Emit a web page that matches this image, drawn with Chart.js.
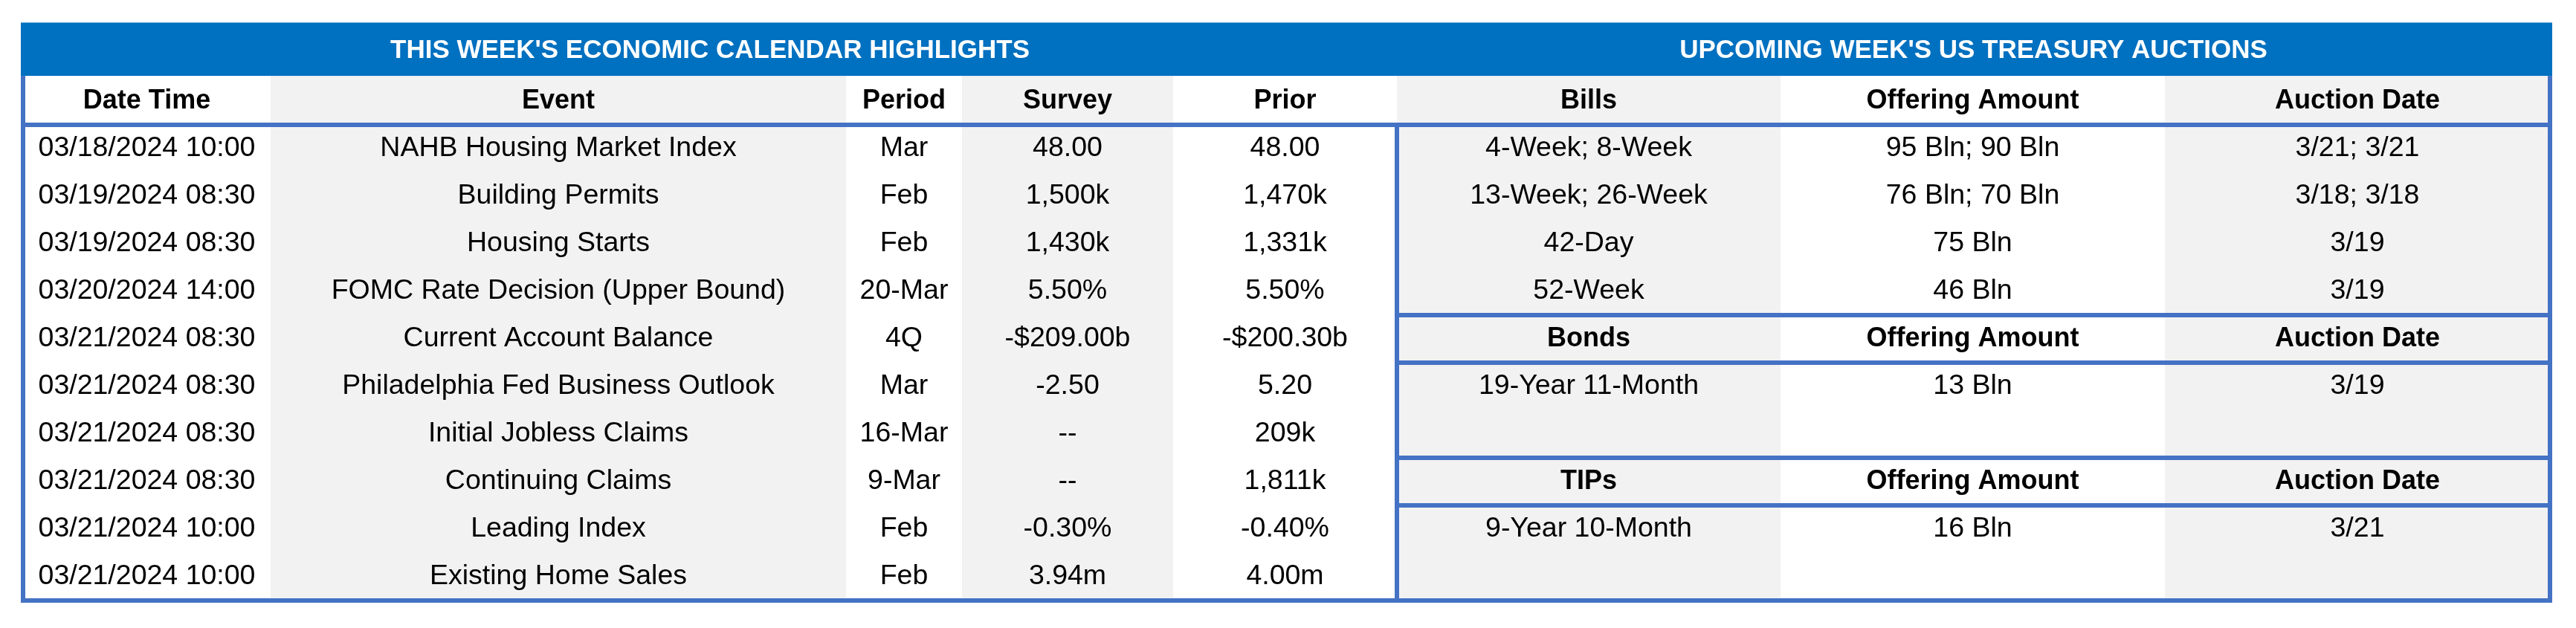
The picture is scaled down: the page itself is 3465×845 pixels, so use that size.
<!DOCTYPE html>
<html>
<head>
<meta charset="utf-8">
<title>Economic calendar and treasury auctions</title>
<script src="https://cdn.jsdelivr.net/npm/chart.js@4.4.1/dist/chart.umd.min.js"></script>
<style>
  html, body { margin: 0; padding: 0; background: #fff; }
  #wrap { width: 3465px; height: 845px; position: relative; }
</style>
</head>
<body>
<div id="wrap"><canvas id="chart"></canvas></div>
<script>
// ---- left table: this week's economic calendar ----
const calTitle = "THIS WEEK'S ECONOMIC CALENDAR HIGHLIGHTS";
const calHeaders = ['Date Time', 'Event', 'Period', 'Survey', 'Prior'];
const dateTimes = [
  '03/18/2024 10:00', '03/19/2024 08:30', '03/19/2024 08:30', '03/20/2024 14:00', '03/21/2024 08:30',
  '03/21/2024 08:30', '03/21/2024 08:30', '03/21/2024 08:30', '03/21/2024 10:00', '03/21/2024 10:00'
];
const events = [
  'NAHB Housing Market Index', 'Building Permits', 'Housing Starts', 'FOMC Rate Decision (Upper Bound)',
  'Current Account Balance', 'Philadelphia Fed Business Outlook', 'Initial Jobless Claims',
  'Continuing Claims', 'Leading Index', 'Existing Home Sales'
];
const periods = ['Mar', 'Feb', 'Feb', '20-Mar', '4Q', 'Mar', '16-Mar', '9-Mar', 'Feb', 'Feb'];
const surveys = ['48.00', '1,500k', '1,430k', '5.50%', '-$209.00b', '-2.50', '--', '--', '-0.30%', '3.94m'];
const priors = ['48.00', '1,470k', '1,331k', '5.50%', '-$200.30b', '5.20', '209k', '1,811k', '-0.40%', '4.00m'];

// ---- right table: upcoming treasury auctions ----
const auctionTitle = "UPCOMING WEEK'S US TREASURY AUCTIONS";
const billHeaders = ['Bills', 'Offering Amount', 'Auction Date'];
const bills = ['4-Week; 8-Week', '13-Week; 26-Week', '42-Day', '52-Week'];
const billAmounts = ['95 Bln; 90 Bln', '76 Bln; 70 Bln', '75 Bln', '46 Bln'];
const billDates = ['3/21; 3/21', '3/18; 3/18', '3/19', '3/19'];
const bondHeaders = ['Bonds', 'Offering Amount', 'Auction Date'];
const bonds = ['19-Year 11-Month'];
const bondAmounts = ['13 Bln'];
const bondDates = ['3/19'];
const tipsHeaders = ['TIPs', 'Offering Amount', 'Auction Date'];
const tips = ['9-Year 10-Month'];
const tipsAmounts = ['16 Bln'];
const tipsDates = ['3/21'];

// ---- layout (x in page units, y in body-row units) ----
const W = 3465;
const leftEdges = [31, 364, 1138, 1294, 1578, 1879];
const rightEdges = [1879, 2395, 2912, 3430];
const leftFills = ['#ffffff', '#f2f2f2', '#ffffff', '#f2f2f2', '#ffffff'];
const rightFills = ['#f2f2f2', '#ffffff', '#f2f2f2'];
const TITLE_TOP = -2.15, TITLE_BOT = -1.03, BODY_ROWS = 10;
const BOND_ROW = 4, TIPS_ROW = 7;
const BLUE = '#0070c0', LINE = '#4472c4';
const FONT = "Arial, 'Liberation Sans', sans-serif";
const bodyFont = '37.5px ' + FONT;
const headFont = 'bold 36px ' + FONT;
const titleFont = 'bold 35px ' + FONT;

const centers = edges => edges.slice(0, -1).map((e, i) => (e + edges[i + 1]) / 2);
const leftX = centers(leftEdges);
const rightX = centers(rightEdges);

// one text per point, drawn at the point's position
function columnSet(texts, x, row0, font) {
  return { data: texts.map((t, i) => ({ x, y: row0 + i + 0.5 })), texts, font, color: '#000' };
}
function rowSet(texts, xs, y, font, color) {
  return { data: texts.map((t, i) => ({ x: xs[i], y })), texts, font, color: color || '#000' };
}

const datasets = [
  rowSet([calTitle], [(leftEdges[0] + leftEdges[5]) / 2], (TITLE_TOP + TITLE_BOT) / 2 + 0.03, titleFont, '#fff'),
  rowSet([auctionTitle], [(rightEdges[0] + rightEdges[3]) / 2], (TITLE_TOP + TITLE_BOT) / 2 + 0.03, titleFont, '#fff'),
  rowSet(calHeaders, leftX, -0.5, headFont),
  columnSet(dateTimes, leftX[0], 0, bodyFont),
  columnSet(events, leftX[1], 0, bodyFont),
  columnSet(periods, leftX[2], 0, bodyFont),
  columnSet(surveys, leftX[3], 0, bodyFont),
  columnSet(priors, leftX[4], 0, bodyFont),
  rowSet(billHeaders, rightX, -0.5, headFont),
  columnSet(bills, rightX[0], 0, bodyFont),
  columnSet(billAmounts, rightX[1], 0, bodyFont),
  columnSet(billDates, rightX[2], 0, bodyFont),
  rowSet(bondHeaders, rightX, BOND_ROW + 0.5, headFont),
  columnSet(bonds, rightX[0], BOND_ROW + 1, bodyFont),
  columnSet(bondAmounts, rightX[1], BOND_ROW + 1, bodyFont),
  columnSet(bondDates, rightX[2], BOND_ROW + 1, bodyFont),
  rowSet(tipsHeaders, rightX, TIPS_ROW + 0.5, headFont),
  columnSet(tips, rightX[0], TIPS_ROW + 1, bodyFont),
  columnSet(tipsAmounts, rightX[1], TIPS_ROW + 1, bodyFont),
  columnSet(tipsDates, rightX[2], TIPS_ROW + 1, bodyFont)
].map(ds => Object.assign(ds, { pointRadius: 0, pointHoverRadius: 0, clip: false }));

// cell fills, title band and blue rules, all placed through the scales
const tableGrid = {
  id: 'tableGrid',
  beforeDatasetsDraw(chart) {
    const { ctx, scales: { x, y } } = chart;
    const rect = (x0, x1, y0, y1, color) => {
      const px0 = x.getPixelForValue(x0), px1 = x.getPixelForValue(x1);
      const py0 = y.getPixelForValue(y0), py1 = y.getPixelForValue(y1);
      ctx.fillStyle = color;
      ctx.fillRect(px0, py0, px1 - px0, py1 - py0);
    };
    const hLine = (x0, x1, row) => {
      const py = y.getPixelForValue(row);
      ctx.fillStyle = LINE;
      ctx.fillRect(x.getPixelForValue(x0), py - 3, x.getPixelForValue(x1) - x.getPixelForValue(x0), 6);
    };
    const vLine = (xv, r0, r1) => {
      const px = x.getPixelForValue(xv);
      ctx.fillStyle = LINE;
      ctx.fillRect(px - 3, y.getPixelForValue(r0), 6, y.getPixelForValue(r1) - y.getPixelForValue(r0) + 3);
    };
    ctx.save();
    leftFills.forEach((c, i) => rect(leftEdges[i], leftEdges[i + 1], TITLE_BOT, BODY_ROWS, c));
    rightFills.forEach((c, i) => rect(rightEdges[i], rightEdges[i + 1], TITLE_BOT, BODY_ROWS, c));
    rect(leftEdges[0] - 3, rightEdges[3] + 3, TITLE_TOP, TITLE_BOT, BLUE);
    hLine(leftEdges[0] - 3, rightEdges[3] + 3, 0);
    hLine(leftEdges[0] - 3, rightEdges[3] + 3, BODY_ROWS);
    [BOND_ROW, BOND_ROW + 1, TIPS_ROW, TIPS_ROW + 1].forEach(r => hLine(rightEdges[0] - 3, rightEdges[3] + 3, r));
    vLine(leftEdges[0], TITLE_BOT, BODY_ROWS);
    vLine(rightEdges[0], 0, BODY_ROWS);
    vLine(rightEdges[3], TITLE_BOT, BODY_ROWS);
    ctx.restore();
  },
  afterDatasetsDraw(chart) {
    const { ctx } = chart;
    ctx.save();
    ctx.textAlign = 'center';
    ctx.textBaseline = 'middle';
    chart.data.datasets.forEach((ds, i) => {
      ctx.font = ds.font;
      ctx.fillStyle = ds.color;
      chart.getDatasetMeta(i).data.forEach((pt, j) => ctx.fillText(ds.texts[j], pt.x, pt.y));
    });
    ctx.restore();
  }
};

new Chart(document.getElementById('chart'), {
  type: 'scatter',
  data: { datasets },
  options: {
    responsive: true,
    maintainAspectRatio: false,
    animation: false,
    events: [],
    layout: { padding: 0 },
    plugins: { legend: { display: false }, tooltip: { enabled: false } },
    scales: {
      x: { type: 'linear', min: 0, max: W, display: false },
      y: { type: 'linear', min: -2.625, max: 10.578, reverse: true, display: false }
    }
  },
  plugins: [tableGrid]
});
</script>
</body>
</html>
